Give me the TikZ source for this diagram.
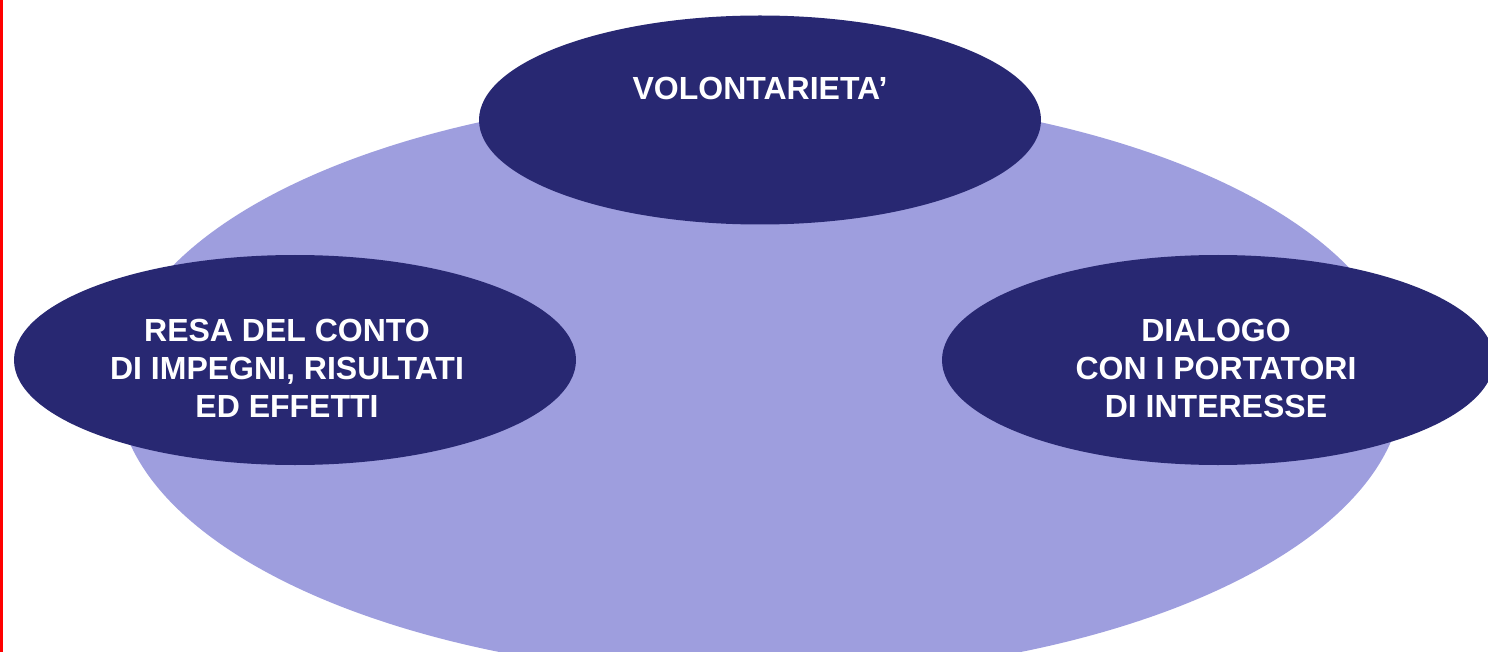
\documentclass[tikz,border=0pt]{standalone}
\usepackage{fontspec}
\setmainfont{Liberation Sans}
\usetikzlibrary{shapes.geometric}
\definecolor{navy}{RGB}{40,40,114}
\definecolor{lilac}{RGB}{158,158,222}
\tikzset{
  oval/.style={ellipse, fill=navy, draw=none, inner sep=0pt},
  lbl/.style={text=white, font=\fontsize{32}{38}\selectfont\bfseries, align=center}
}
\begin{document}
\begin{tikzpicture}[x=1pt,y=-1pt]
\useasboundingbox (0,0) rectangle (1488,652);
\clip (0,0) rectangle (1488,652);
\fill[white] (0,0) rectangle (1488,652);
\node[ellipse, fill=lilac, inner sep=0pt, minimum width=1286pt, minimum height=584pt] (base) at (760,385) {};
\node[oval, minimum width=562pt, minimum height=209pt] (top) at (760,120) {};
\node[lbl] (toptxt) at (760,88) {VOLONTARIETA’};
\node[oval, minimum width=562pt, minimum height=210pt] (left) at (295,360) {};
\node[lbl] (lefttxt) at (287,368) {RESA DEL CONTO\\DI IMPEGNI, RISULTATI\\ED EFFETTI};
\node[oval, minimum width=552pt, minimum height=210pt] (right) at (1218,360) {};
\node[lbl] (righttxt) at (1216,368) {DIALOGO\\CON I PORTATORI\\DI INTERESSE};
\draw[red, line width=2.5pt] (1.5,0) -- (1.5,652);
\end{tikzpicture}
\end{document}
